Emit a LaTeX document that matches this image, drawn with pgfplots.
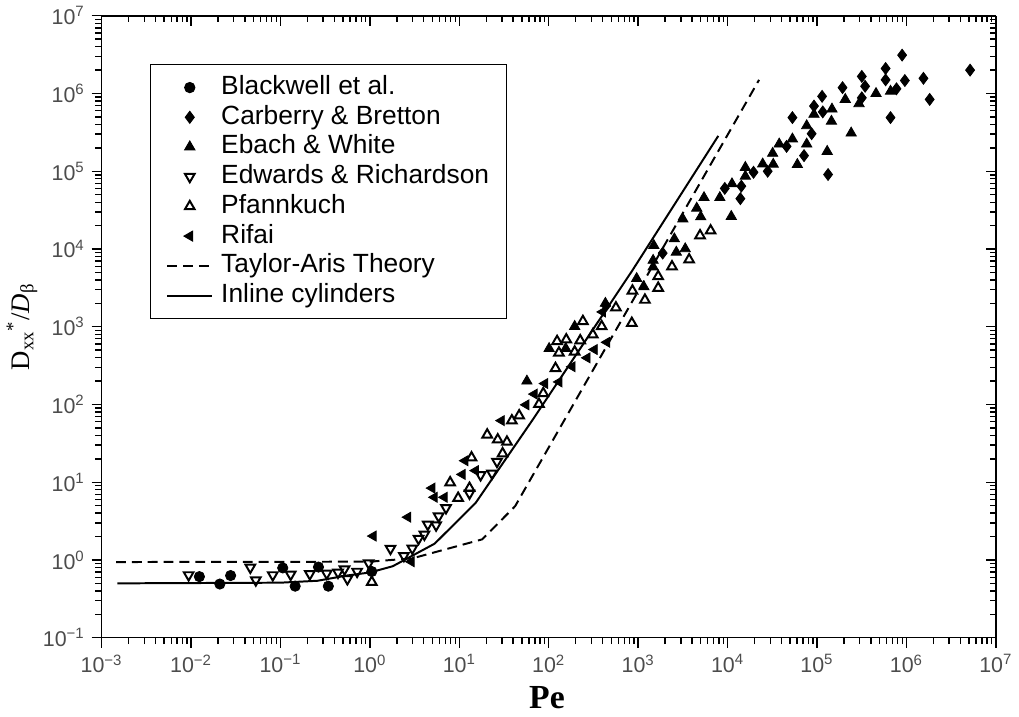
\documentclass[border=0pt]{standalone}
\usepackage{pgfplots}
\pgfplotsset{compat=1.18}
\usepackage{fontspec}
\setmainfont{Liberation Sans}
\newfontfamily\serif{Liberation Serif}

\newcommand\tp[1]{10\textsuperscript{#1}}
\pgfplotsset{
  lg/.style={legend image code/.code={\draw[mark repeat=2,mark phase=2,##1] plot coordinates {(0cm,0cm)(0.4cm,0cm)(0.8cm,0cm)};}},
  logframe/.style={
    width=451.5pt, height=314pt, scale only axis,
    xmin=1e-3, xmax=1e7, ymin=1e-1, ymax=1e7,
    xtick={1e-3,1e-2,1e-1,1,1e1,1e2,1e3,1e4,1e5,1e6,1e7},
    ytick={1e-1,1,1e1,1e2,1e3,1e4,1e5,1e6,1e7},
    minor xtick={2e-3,3e-3,4e-3,5e-3,6e-3,7e-3,8e-3,9e-3,
      2e-2,3e-2,4e-2,5e-2,6e-2,7e-2,8e-2,9e-2,
      2e-1,3e-1,4e-1,5e-1,6e-1,7e-1,8e-1,9e-1,
      2,3,4,5,6,7,8,9,
      2e1,3e1,4e1,5e1,6e1,7e1,8e1,9e1,
      2e2,3e2,4e2,5e2,6e2,7e2,8e2,9e2,
      2e3,3e3,4e3,5e3,6e3,7e3,8e3,9e3,
      2e4,3e4,4e4,5e4,6e4,7e4,8e4,9e4,
      2e5,3e5,4e5,5e5,6e5,7e5,8e5,9e5,
      2e6,3e6,4e6,5e6,6e6,7e6,8e6,9e6},
    minor ytick={2e-1,3e-1,4e-1,5e-1,6e-1,7e-1,8e-1,9e-1,
      2,3,4,5,6,7,8,9,
      2e1,3e1,4e1,5e1,6e1,7e1,8e1,9e1,
      2e2,3e2,4e2,5e2,6e2,7e2,8e2,9e2,
      2e3,3e3,4e3,5e3,6e3,7e3,8e3,9e3,
      2e4,3e4,4e4,5e4,6e4,7e4,8e4,9e4,
      2e5,3e5,4e5,5e5,6e5,7e5,8e5,9e5,
      2e6,3e6,4e6,5e6,6e6,7e6,8e6,9e6},
    xmajorticks=true, ymajorticks=true, xminorticks=true, yminorticks=true,
    axis line style={line width=0.75pt},
    major tick length=5pt, minor tick length=3.2pt,
    tick style={draw=black, line width=0.7pt},
    every major tick/.append style={draw=black},
    every minor tick/.append style={draw=black},
  },
}

\begin{document}
\begin{tikzpicture}
\begin{loglogaxis}[logframe,
  axis x line*=bottom, axis y line*=left, tick align=outside,
  xticklabels={\tp{−3},\tp{−2},\tp{−1},\tp{0},\tp{1},\tp{2},\tp{3},\tp{4},\tp{5},\tp{6},\tp{7}},
  yticklabels={\tp{−1},\tp{0},\tp{1},\tp{2},\tp{3},\tp{4},\tp{5},\tp{6},\tp{7}},
  tick label style={font=\fontsize{10.8}{12}\selectfont, text=black!70},
  xlabel={\serif\bfseries Pe},
  ylabel={\serif D\textsubscript{xx}\textsuperscript{*}/\textit{D}\textsubscript{β}},
  xlabel style={font=\fontsize{17}{19}\selectfont, at={(axis description cs:0.498,-0.097)}, anchor=center},
  ylabel style={font=\fontsize{13.5}{16}\selectfont, at={(axis description cs:-0.089,0.5)}, anchor=center},
  legend style={at={(axis description cs:0.054,0.922)}, anchor=north west,
    font=\fontsize{13.3}{15}\selectfont, draw=black, line width=0.5pt,
    inner xsep=8pt, inner ysep=4pt, row sep=0pt, column sep=3pt,
    nodes={text height=10pt, text depth=3pt, inner sep=1pt}},
  legend cell align=left,
]
% Blackwell et al.
\addplot[only marks, mark=*, mark size=2.6pt, black, lg] coordinates {
(0.0124,0.61) (0.021,0.49) (0.0277,0.63) (0.106,0.79) (0.146,0.46)
(0.266,0.81) (0.343,0.46) (1.05,0.71)
};
\addlegendentry{Blackwell et al.}
% Carberry & Bretton
\addplot[only marks, mark=diamond*, mark size=3pt, black, lg] coordinates {
(437,1860) (1880,8850) (9310,60200) (14250,64300) (13900,44400) (19500,97000)
(28100,1.0e5) (45700,2.09e5) (53100,4.9e5) (71600,1.59e5) (87100,3.04e5)
(92500,6.9e5) (1.16e5,5.8e5) (1.14e5,9.2e5) (1.33e5,90800) (1.93e5,1.19e6)
(3.17e5,1.66e6) (3.45e5,1.24e6) (3.17e5,8.8e5) (5.85e5,2.1e6) (5.85e5,1.5e6)
(7.74e5,1.15e6) (6.64e5,4.9e5) (8.95e5,3.12e6) (9.6e5,1.47e6) (1.55e6,1.57e6)
(1.82e6,8.4e5) (5.15e6,2.0e6)
};
\addlegendentry{Carberry \& Bretton}
% Ebach & White
\addplot[only marks, mark=triangle*, mark size=3pt, black, lg] coordinates {
(57,200) (101,525) (155,525) (195,1010) (430,2000) (962,4170) (1160,3260)
(1470,7140) (1470,5870) (1496,11100) (2540,13500) (2670,9100) (3360,10070)
(3160,24300) (4520,33500) (5010,25900) (5450,45800) (8190,45800) (11000,26200)
(11200,68900) (15800,1.12e5) (15800,86300) (24700,1.24e5) (31900,1.7e5)
(32400,1.23e5) (37800,2.24e5) (53100,2.6e5) (60300,1.22e5) (76700,2.24e5)
(76700,3.85e5) (92500,5.4e5) (1.30e5,1.8e5) (1.45e5,4.4e5) (1.47e5,6.3e5)
(2.07e5,8.4e5) (2.41e5,3.1e5) (2.95e5,7.4e5) (4.57e5,1.0e6) (6.64e5,1.07e6)
};
\addlegendentry{Ebach \& White}
% Edwards & Richardson
\addplot[only marks, mark=triangle, mark size=2.8pt, black,
  mark options={rotate=180, line width=1pt}, lg] coordinates {
(0.0094,0.64) (0.046,0.80) (0.053,0.55) (0.082,0.64) (0.130,0.65) (0.213,0.66)
(0.329,0.67) (0.44,0.69) (0.52,0.76) (0.56,0.57) (0.72,0.71) (0.97,0.91)
(1.70,1.40) (2.40,1.13) (2.98,1.41) (3.50,1.88) (4.07,2.13) (4.44,2.86)
(5.5,2.8) (5.87,3.65) (7.1,4.67) (13.0,7.2) (17.3,12.4) (23.2,13.0) (26.4,18.4)
};
\addlegendentry{Edwards \& Richardson}
% Pfannkuch
\addplot[only marks, mark=triangle, mark size=2.8pt, black,
  mark options={line width=1pt}, lg] coordinates {
(1.05,0.52) (7.9,9.9) (9.7,6.25) (13.0,8.4) (13.7,20.7) (20.5,40.8) (26.9,35.3)
(30.5,23.4) (34.1,33) (38.7,62) (46.7,72) (77.8,101) (86.9,139) (119,292)
(124,650) (130,462) (157,683) (195,476) (225,664) (241,1175) (311,791)
(391,1010) (564,1760) (849,1113) (863,2900) (1190,2210) (1675,4440)
(1675,3150) (2390,5930) (3715,7300) (4920,14900) (6460,17200)
};
\addlegendentry{Pfannkuch}
% Rifai
\addplot[only marks, mark=triangle*, mark size=2.9pt, black,
  mark options={rotate=90}, lg] coordinates {
(1.09,2.03) (2.66,3.55) (2.90,0.95) (4.95,8.4) (5.26,6.4) (6.8,6.4) (10.8,12.6)
(11.6,18.9) (15.2,14.1) (29.6,62) (55.8,99) (69,136) (90.6,186) (130.6,195)
(183,306) (269,398) (324,509) (400,1550) (448,631)
};
\addlegendentry{Rifai}
% Taylor-Aris theory
\addplot[black, line width=1pt, dash pattern=on 5pt off 3pt, lg] coordinates {
(1.45e-3,0.94) (1,0.95) (3,1.05) (18,1.84) (42,4.9) (2.25e4,1.5e6)
};
\addlegendentry{Taylor-Aris Theory}
% Inline cylinders
\addplot[black, line width=1pt, lg] coordinates {
(1.5e-3,0.5) (0.1,0.51) (0.26,0.54) (0.55,0.63) (1.0,0.69) (1.8,0.83)
(5.3,1.62) (15.2,5.4) (67,65) (863,5320) (7870,2.85e5)
};
\addlegendentry{Inline cylinders}
\end{loglogaxis}
% top and right sides, ticks pointing inward
\begin{loglogaxis}[logframe,
  axis x line*=top, axis y line*=right, tick align=inside,
  xticklabels={}, yticklabels={},
]
\addplot[draw=none] coordinates {(1,1)};
\end{loglogaxis}
\path (current axis.south west) ++(-49.5pt,-40pt);
\path (current axis.north east) ++(8.5pt,6.5pt);
\end{tikzpicture}
\end{document}
